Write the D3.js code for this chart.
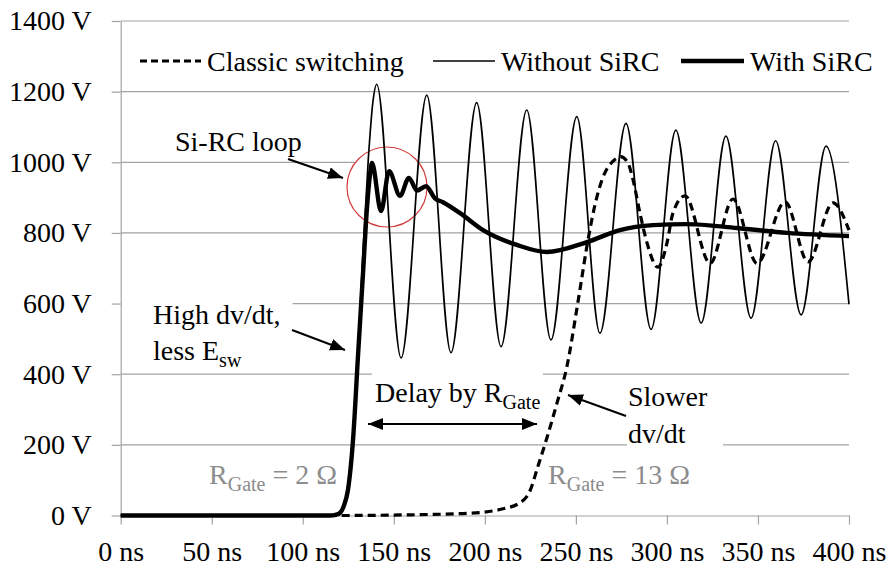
<!DOCTYPE html>
<html>
<head>
<meta charset="utf-8">
<script src="https://cdn.jsdelivr.net/npm/d3@7"></script>
<style>
  body { margin: 0; background: #fff; }
  text { font-family: "Liberation Serif", "Times New Roman", serif; }
</style>
</head>
<body>
<svg id="chart" width="888" height="566"></svg>
<script>
// ticks
var timeTicks = [0, 50, 100, 150, 200, 250, 300, 350, 400];
var voltTicks = [0, 200, 400, 600, 800, 1000, 1200, 1400];

// [ns, V]
var classic = [[0,0],[120,0],[160,2],[185,5],[197,8],[208.3,17],[219.3,36],[224.8,70],[229.2,140],[234.1,220],
  [239.6,318],[245,420],[251,600],[257,790],[260.5,880],[264.9,958],[270.4,1003],[274.6,1016],[278.6,998],
  [281.4,950],[285.2,856],[289.1,771],[295.1,703],[300,771],[303.3,856],[309.9,905],[323.7,714],[336.3,896],
  [349.5,714],[364.9,888],[377.5,718],[391.2,885],[400,808]];

var without = [[0,0],[116,0],[120,8],[124,50],[127,170],[130,420],[133,740],[136,1010],[138.5,1170],
  [140.6,1221],[154.0,446],[168.1,1190],[181.4,461],[195.5,1169],[208.9,478],[223.0,1148],[236.3,497],
  [250.5,1129],[263.2,516],[277.5,1110],[291.3,527],[304.9,1091],[318.8,545],[332.4,1074],[346.2,559],
  [359.7,1061],[373.7,568],[387.4,1046],[400,598]];

var withSirc = [[0,0],[115,0],[118,2],[120.4,7],[122.6,28],[124.8,72],[127.6,214],[130.3,449],[133.1,687],
  [135.3,873],[136.9,964],[138.0,998],[143.0,862],[147.4,975],[153.4,905],[158.3,956],[162.7,920],
  [167.7,932],[172.6,898],[177.0,887],[186.4,856],[199.0,808],[217.6,766],[234.1,746],[256.1,774],
  [274.2,808],[292.4,822],[311.0,825],[338.5,814],[366.0,800],[400,791]];

var svg = d3.select('#chart');
var x = d3.scaleLinear().domain([0, 400]).range([120.7, 849]);
var y = d3.scaleLinear().domain([0, 1400]).range([515.5, 21]);
var grey = '#a3a3a3';

var defs = svg.append('defs');
defs.append('marker').attr('id', 'arr')
  .attr('markerUnits', 'userSpaceOnUse')
  .attr('markerWidth', 16).attr('markerHeight', 12)
  .attr('refX', 15).attr('refY', 6)
  .attr('orient', 'auto-start-reverse')
  .append('path').attr('d', 'M0,0 L15,6 L0,12 Z').attr('fill', '#000');

// grid
svg.append('g').selectAll('line').data(voltTicks.slice(1)).enter().append('line')
  .attr('x1', x(0)).attr('x2', x(400))
  .attr('y1', function(d) { return y(d); }).attr('y2', function(d) { return y(d); })
  .attr('stroke', grey).attr('stroke-width', 1.2);

// white label boxes that cut the grid
var boxes = [[120.7, 290, 172, 76], [372, 365, 171, 44], [627, 380, 96, 72]];
svg.append('g').selectAll('rect').data(boxes).enter().append('rect')
  .attr('x', function(d) { return d[0]; }).attr('y', function(d) { return d[1]; })
  .attr('width', function(d) { return d[2]; }).attr('height', function(d) { return d[3]; })
  .attr('fill', '#fff');

svg.append('circle').attr('cx', 387).attr('cy', 187).attr('r', 40)
  .attr('fill', '#fff').attr('stroke', '#d33b3b').attr('stroke-width', 1.2);

// axes
var yAxis = svg.append('g').attr('transform', 'translate(' + x(0) + ',0)')
  .call(d3.axisLeft(y).tickValues(voltTicks).tickSizeInner(9).tickSizeOuter(0).tickPadding(20)
    .tickFormat(function(d) { return d + ' V'; }));
var xAxis = svg.append('g').attr('transform', 'translate(0,' + y(0) + ')')
  .call(d3.axisBottom(x).tickValues(timeTicks).tickSizeInner(9).tickSizeOuter(0).tickPadding(17)
    .tickFormat(function(d) { return d + ' ns'; }));
[xAxis, yAxis].forEach(function(a) {
  a.attr('font-family', null).attr('font-size', null);
  a.selectAll('path, line').attr('stroke', grey).attr('stroke-width', 1.2);
  a.selectAll('text').attr('font-size', 28).attr('fill', '#000');
});

// series
var line = d3.line().x(function(d) { return x(d[0]); }).y(function(d) { return y(d[1]); })
  .curve(d3.curveMonotoneX);
svg.append('path').datum(classic).attr('d', line).attr('fill', 'none')
  .attr('stroke', '#000').attr('stroke-width', 3.2).attr('stroke-dasharray', '8,5');
svg.append('path').datum(without).attr('d', line).attr('fill', 'none')
  .attr('stroke', '#000').attr('stroke-width', 1.7);
svg.append('path').datum(withSirc).attr('d', line).attr('fill', 'none')
  .attr('stroke', '#000').attr('stroke-width', 4.4).attr('stroke-linejoin', 'round');

// legend
var legend = [
  {name: 'Classic switching', x1: 140, x2: 201, w: 3.2, dash: '7,4'},
  {name: 'Without SiRC', x1: 433, x2: 495, w: 1.7, dash: null},
  {name: 'With SiRC', x1: 681, x2: 744, w: 4.4, dash: null}
];
legend.forEach(function(l) {
  svg.append('line').attr('x1', l.x1).attr('x2', l.x2).attr('y1', 61).attr('y2', 61)
    .attr('stroke', '#000').attr('stroke-width', l.w).attr('stroke-dasharray', l.dash);
  svg.append('text').attr('x', l.x2 + 6).attr('y', 71).attr('font-size', 28).text(l.name);
});

// annotations
function arrow(x1, y1, x2, y2, both) {
  svg.append('line').attr('x1', x1).attr('y1', y1).attr('x2', x2).attr('y2', y2)
    .attr('stroke', '#000').attr('stroke-width', 2)
    .attr('marker-end', 'url(#arr)')
    .attr('marker-start', both ? 'url(#arr)' : null);
}
svg.append('text').attr('x', 175).attr('y', 151).attr('font-size', 28).text('Si-RC loop');
arrow(288, 159, 343, 178);

svg.append('text').attr('x', 153).attr('y', 324).attr('font-size', 28).text('High dv/dt,');
var t2 = svg.append('text').attr('x', 153).attr('y', 360).attr('font-size', 28);
t2.append('tspan').text('less E');
t2.append('tspan').attr('font-size', 20).attr('dy', 7).text('sw');
arrow(292, 330, 345, 350);

var t3 = svg.append('text').attr('x', 375).attr('y', 402).attr('font-size', 28);
t3.append('tspan').text('Delay by R');
t3.append('tspan').attr('font-size', 20).attr('dy', 7).text('Gate');
arrow(368, 424, 537, 424, true);

svg.append('text').attr('x', 628).attr('y', 406).attr('font-size', 28).text('Slower');
svg.append('text').attr('x', 628).attr('y', 443).attr('font-size', 28).text('dv/dt');
arrow(626, 416, 568, 395);

[[209, '2 Ω'], [548, '13 Ω']].forEach(function(g) {
  var t = svg.append('text').attr('x', g[0]).attr('y', 484).attr('font-size', 28).attr('fill', '#8c8c8c');
  t.append('tspan').text('R');
  t.append('tspan').attr('font-size', 20).attr('dy', 7).text('Gate');
  t.append('tspan').attr('dy', -7).text(' = ' + g[1]);
});
</script>
</body>
</html>
